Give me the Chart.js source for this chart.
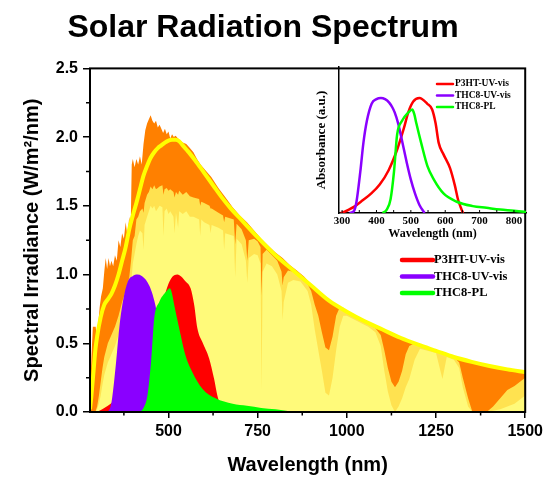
<!DOCTYPE html>
<html>
<head>
<meta charset="utf-8">
<script src="https://cdn.jsdelivr.net/npm/chart.js@4/dist/chart.umd.min.js"></script>
<style>
  body { margin: 0; background: #fff; }
  #wrap { position: relative; width: 547px; height: 477px; }
  #main { position: absolute; left: 0; top: 0; }
  #inset { position: absolute; left: 300px; top: 60px; }
</style>
</head>
<body>
<div id="wrap">
  <canvas id="main" width="547" height="477"></canvas>
  <canvas id="inset" width="228" height="185"></canvas>
</div>
<script>
// 大气层外太阳光谱 (橙色)
const wlAM0 = [
  280, 284, 288, 296, 299, 303, 307, 311, 316, 320,
  324, 328, 332, 336, 340, 345, 350, 355, 360, 365,
  370, 375, 380, 385, 390, 394, 397, 400, 405, 410,
  415, 420, 425, 430, 435, 440, 445, 450, 455, 460,
  465, 470, 475, 480, 485, 490, 495, 500, 505, 510,
  515, 520, 530, 540, 550, 560, 570, 580, 590, 600,
  620, 640, 660, 680, 700, 720, 740, 760, 780, 800,
  820, 840, 860, 880, 900, 950, 1000, 1100, 1200, 1300,
  1400, 1500
];
const irrAM0 = [
  0.10, 0.40, 0.62, 0.62, 0.54, 0.64, 0.76, 0.84, 0.90, 1.02,
  1.12, 1.04, 1.12, 1.06, 1.10, 1.06, 1.14, 1.10, 1.25, 1.20,
  1.30, 1.26, 1.38, 1.28, 1.42, 1.34, 1.80, 1.84, 1.78, 1.84,
  1.80, 1.86, 1.80, 1.95, 2.05, 2.10, 2.13, 2.16, 2.12, 2.10,
  2.12, 2.07, 2.09, 2.06, 2.03, 2.06, 2.02, 2.04, 1.99, 2.02,
  2.00, 2.01, 1.98, 1.96, 1.95, 1.92, 1.89, 1.84, 1.80, 1.77,
  1.71, 1.63, 1.56, 1.49, 1.43, 1.38, 1.32, 1.26, 1.21, 1.16,
  1.12, 1.07, 1.03, 0.985, 0.93, 0.81, 0.72, 0.59, 0.48, 0.39,
  0.33, 0.28
];

// 海平面光谱: 深黄 (global) 与浅黄 (direct)
const wlSea = [
  280, 295, 300, 305, 310, 315, 320, 330, 340, 350,
  360, 370, 380, 390, 395, 400, 405, 410, 415, 420,
  427, 430, 433, 440, 445, 450, 455, 460, 465, 470,
  475, 483, 486, 489, 495, 500, 505, 514, 517, 521,
  527, 530, 540, 550, 560, 570, 586, 589, 592, 600,
  615, 618, 621, 640, 653, 656, 659, 683, 687, 691,
  705, 717, 721, 725, 740, 750, 758, 761, 764, 775,
  790, 805, 817, 820, 823, 835, 850, 870, 890, 900,
  910, 920, 930, 940, 950, 960, 970, 980, 990, 1000,
  1030, 1060, 1080, 1095, 1105, 1115, 1125, 1135, 1145, 1155,
  1165, 1175, 1190, 1205, 1250, 1268, 1280, 1300, 1315, 1325,
  1340, 1352, 1392, 1410, 1430, 1450, 1470, 1490, 1500
];
const irrGlobal = [
  0, 0, 0.04, 0.12, 0.22, 0.32, 0.40, 0.50, 0.56, 0.62,
  0.70, 0.80, 0.88, 0.98, 1.10, 1.25, 1.28, 1.40, 1.42, 1.46,
  1.48, 1.45, 1.52, 1.58, 1.60, 1.64, 1.62, 1.65, 1.62, 1.63,
  1.64, 1.65, 1.58, 1.62, 1.63, 1.61, 1.62, 1.60, 1.56, 1.60,
  1.58, 1.61, 1.58, 1.60, 1.57, 1.56, 1.55, 1.50, 1.53, 1.52,
  1.50, 1.48, 1.48, 1.45, 1.43, 1.38, 1.42, 1.40, 1.22, 1.37,
  1.33, 1.25, 1.10, 1.25, 1.26, 1.24, 1.20, 0.85, 1.15, 1.18,
  1.14, 1.10, 1.02, 0.92, 0.98, 1.03, 1.02, 0.98, 0.93, 0.88,
  0.78, 0.70, 0.58, 0.47, 0.45, 0.55, 0.70, 0.76, 0.76, 0.73,
  0.69, 0.64, 0.61, 0.56, 0.45, 0.32, 0.22, 0.18, 0.22, 0.30,
  0.42, 0.48, 0.50, 0.49, 0.45, 0.42, 0.42, 0.40, 0.36, 0.25,
  0.10, 0, 0, 0.04, 0.10, 0.16, 0.19, 0.23, 0.25
];
const irrDirect = [
  0, 0, 0.02, 0.06, 0.12, 0.20, 0.27, 0.36, 0.42, 0.48,
  0.56, 0.66, 0.74, 0.84, 0.92, 1.08, 1.15, 1.22, 1.28, 1.32,
  1.30, 1.18, 1.36, 1.42, 1.46, 1.50, 1.48, 1.50, 1.46, 1.48,
  1.50, 1.49, 1.28, 1.46, 1.48, 1.44, 1.46, 1.42, 1.30, 1.45,
  1.34, 1.46, 1.44, 1.46, 1.42, 1.42, 1.40, 1.28, 1.40, 1.38,
  1.36, 1.30, 1.36, 1.34, 1.32, 1.18, 1.30, 1.28, 0.98, 1.26,
  1.22, 1.10, 0.94, 1.12, 1.15, 1.14, 1.08, 0.16, 1.02, 1.08,
  1.06, 1.00, 0.88, 0.67, 0.80, 0.94, 0.96, 0.95, 0.88, 0.78,
  0.60, 0.45, 0.30, 0.14, 0.12, 0.25, 0.45, 0.62, 0.70, 0.70,
  0.66, 0.62, 0.58, 0.48, 0.30, 0.15, 0.05, 0, 0.04, 0.10,
  0.18, 0.24, 0.38, 0.46, 0.43, 0.24, 0.40, 0.38, 0.32, 0.18,
  0.04, 0, 0, 0.01, 0.02, 0.04, 0.06, 0.10, 0.12
];

// 黑体曲线 (黄线)
const wlBody = [
  280, 284, 290, 295, 300, 310, 320, 330, 340, 350,
  360, 370, 380, 390, 400, 410, 420, 430, 440, 450,
  460, 470, 480, 490, 500, 510, 520, 530, 540, 550,
  560, 575, 600, 625, 650, 675, 700, 750, 800, 850,
  900, 950, 1000, 1050, 1100, 1150, 1200, 1250, 1300, 1350,
  1400, 1450, 1500
];
const irrBody = [
  0.02, 0.12, 0.30, 0.45, 0.55, 0.69, 0.78, 0.82, 0.86, 0.92,
  1.00, 1.10, 1.20, 1.33, 1.43, 1.52, 1.62, 1.72, 1.79, 1.85,
  1.89, 1.92, 1.94, 1.96, 1.975, 1.98, 1.98, 1.97, 1.94, 1.91,
  1.88, 1.83, 1.74, 1.65, 1.56, 1.48, 1.41, 1.27, 1.14, 1.03,
  0.92, 0.81, 0.73, 0.66, 0.60, 0.54, 0.49, 0.445, 0.40, 0.365,
  0.335, 0.31, 0.29
];

// 吸收/发射曲线
const wlP3HT = [296, 306, 320, 338, 360, 385, 410, 435, 460, 480, 493, 507, 525, 548, 562, 572, 581, 595, 614, 628, 637, 645, 652];
const absP3HT = [0, 0.01, 0.03, 0.06, 0.11, 0.17, 0.25, 0.37, 0.55, 0.74, 0.88, 0.97, 1.0, 0.95, 0.90, 0.78, 0.61, 0.51, 0.39, 0.24, 0.12, 0.05, 0];
const wlTHC8 = [322, 335, 342, 353, 362, 372, 386, 400, 413, 425, 437, 446, 453, 463, 475, 488, 500, 512, 525, 540];
const absTHC8 = [0, 0.02, 0.10, 0.36, 0.61, 0.80, 0.95, 0.99, 1.0, 0.99, 0.96, 0.92, 0.875, 0.78, 0.62, 0.44, 0.29, 0.17, 0.07, 0];
const wlPL = [418, 430, 441, 451, 460, 474, 493, 504, 510, 516, 530, 548, 567, 595, 632, 680, 720, 760, 800, 830, 855];
const intPL = [0, 0.03, 0.12, 0.36, 0.68, 0.80, 0.875, 0.90, 0.86, 0.78, 0.61, 0.41, 0.29, 0.17, 0.10, 0.06, 0.045, 0.03, 0.02, 0.01, 0];

// 刻度
const xTicks = [500, 750, 1000, 1250, 1500];
const xMinor = [375, 625, 875, 1125, 1375];
const yTicks = [0, 0.5, 1.0, 1.5, 2.0, 2.5];
const yMinor = [0.25, 0.75, 1.25, 1.75, 2.25];
const insetTicks = [300, 400, 500, 600, 700, 800];
const insetMinor = [300, 350, 400, 450, 500, 550, 600, 650, 700, 750, 800];

const SANS = '"Liberation Sans", Arial, sans-serif';
const SERIF = '"Liberation Serif", "Times New Roman", serif';

const pts = (xs, ys) => xs.map((x, i) => ({ x: x, y: ys[i] }));

function area(label, xs, ys, color, order, smooth) {
    return {
        label: label,
        data: pts(xs, ys),
        backgroundColor: color,
        borderColor: color,
        borderWidth: 0,
        pointRadius: 0,
        fill: 'origin',
        order: order,
        tension: 0,
        cubicInterpolationMode: smooth ? 'monotone' : 'default'
    };
}

// 边框与次刻度
const frameTicks = {
    id: 'frameTicks',
    afterDraw(chart, args, o) {
        const { ctx, chartArea: a } = chart;
        const sx = chart.scales.x, sy = chart.scales.y;
        ctx.save();
        ctx.strokeStyle = '#000';
        if (o.box) {
            ctx.lineWidth = o.boxWidth;
            ctx.strokeRect(a.left, a.top, a.right - a.left, a.bottom - a.top);
        }
        ctx.lineWidth = o.tickWidth;
        ctx.beginPath();
        (o.xMinor || []).forEach(v => {
            const px = sx.getPixelForValue(v);
            ctx.moveTo(px, a.bottom);
            ctx.lineTo(px, a.bottom + o.xLen);
        });
        (o.yMinor || []).forEach(v => {
            const py = sy.getPixelForValue(v);
            ctx.moveTo(a.left, py);
            ctx.lineTo(a.left - o.yLen, py);
        });
        ctx.stroke();
        ctx.restore();
    }
};

// 线条图例
const lineLegend = {
    id: 'lineLegend',
    afterDraw(chart, args, o) {
        const ctx = chart.ctx;
        const items = chart.data.datasets.filter(d => d.legendRank).sort((a, b) => a.legendRank - b.legendRank);
        ctx.save();
        ctx.font = o.font;
        ctx.textBaseline = 'middle';
        items.forEach((d, i) => {
            const y = o.y + i * o.gap;
            ctx.strokeStyle = d.legendColor;
            ctx.lineWidth = o.lineWidth;
            ctx.lineCap = 'round';
            ctx.beginPath();
            ctx.moveTo(o.x, y);
            ctx.lineTo(o.x + o.len, y);
            ctx.stroke();
            ctx.fillStyle = '#000';
            ctx.fillText(d.label, o.x + o.len + o.textGap, y);
        });
        ctx.restore();
    }
};

function createMainChart() {
    const red = area('P3HT-UV-vis', wlP3HT, absP3HT, '#FF0000', 3, true);
    red.legendRank = 1; red.legendColor = '#FF0000';
    const purple = area('THC8-UV-vis', wlTHC8, absTHC8, '#8A00FF', 2, true);
    purple.legendRank = 2; purple.legendColor = '#8A00FF';
    const green = area('THC8-PL', wlPL, intPL, '#00FF00', 1, true);
    green.legendRank = 3; green.legendColor = '#00FF00';

    new Chart(document.getElementById('main'), {
        type: 'line',
        data: {
            datasets: [
                {
                    label: 'Blackbody',
                    data: pts(wlBody, irrBody),
                    borderColor: '#FFFF00',
                    borderWidth: 4,
                    pointRadius: 0,
                    fill: false,
                    order: 0,
                    cubicInterpolationMode: 'monotone'
                },
                green,
                purple,
                red,
                area('Sea level direct', wlSea, irrDirect, '#FFFA7A', 4, false),
                area('Sea level global', wlSea, irrGlobal, '#FFE250', 5, false),
                area('Top of atmosphere', wlAM0, irrAM0, '#FF8000', 6, false)
            ]
        },
        options: {
            responsive: false,
            animation: false,
            devicePixelRatio: 1,
            layout: { padding: { left: 0, right: 21, top: 0, bottom: 0 } },
            plugins: {
                legend: { display: false },
                tooltip: { enabled: false },
                title: {
                    display: true,
                    text: 'Solar Radiation Spectrum',
                    color: '#000',
                    font: { family: SANS, size: 32, weight: 'bold' },
                    padding: { top: 9, bottom: 21 }
                },
                frameTicks: { box: true, boxWidth: 2, tickWidth: 1.5, xMinor: xMinor, yMinor: yMinor, xLen: 3.5, yLen: 4 },
                lineLegend: { x: 402, y: 260, gap: 16.5, len: 31, lineWidth: 4.5, textGap: 1,
                              font: 'bold 12.5px ' + SERIF }
            },
            scales: {
                x: {
                    type: 'linear',
                    min: 280,
                    max: 1500,
                    afterBuildTicks: s => { s.ticks = xTicks.map(v => ({ value: v })); },
                    afterFit: s => { s.height = 65; },
                    ticks: {
                        color: '#000',
                        font: { family: SANS, size: 16, weight: 'bold' },
                        padding: 4,
                        maxRotation: 0,
                        autoSkip: false,
                        callback: v => String(v)
                    },
                    grid: { display: true, drawOnChartArea: false, drawTicks: true, tickLength: 6, color: '#000', lineWidth: 1.5 },
                    border: { display: false },
                    title: {
                        display: true,
                        text: 'Wavelength (nm)',
                        color: '#000',
                        font: { family: SANS, size: 20, weight: 'bold' },
                        padding: { top: 0, bottom: 0 }
                    }
                },
                y: {
                    min: 0,
                    max: 2.5,
                    afterBuildTicks: s => { s.ticks = yTicks.map(v => ({ value: v })); },
                    afterFit: s => { s.width = 90; },
                    ticks: {
                        color: '#000',
                        font: { family: SANS, size: 16, weight: 'bold' },
                        padding: 5,
                        callback: v => v.toFixed(1)
                    },
                    grid: { display: true, drawOnChartArea: false, drawTicks: true, tickLength: 7, color: '#000', lineWidth: 1.5 },
                    border: { display: false },
                    title: {
                        display: true,
                        text: 'Spectral Irradiance (W/m²/nm)',
                        color: '#000',
                        font: { family: SANS, size: 20, weight: 'bold' },
                        padding: { top: 20, bottom: 0 }
                    }
                }
            }
        },
        plugins: [frameTicks, lineLegend]
    });
}

function curve(label, xs, ys, color, rank) {
    return {
        label: label,
        data: pts(xs, ys),
        borderColor: color,
        borderWidth: 2.5,
        pointRadius: 0,
        fill: false,
        cubicInterpolationMode: 'monotone',
        legendRank: rank,
        legendColor: color
    };
}

function createInsetChart() {
    new Chart(document.getElementById('inset'), {
        type: 'line',
        data: {
            datasets: [
                curve('THC8-PL', wlPL, intPL, '#00FF00', 3),
                curve('THC8-UV-vis', wlTHC8, absTHC8, '#8A00FF', 2),
                curve('P3HT-UV-vis', wlP3HT, absP3HT, '#FF0000', 1)
            ]
        },
        options: {
            responsive: false,
            animation: false,
            devicePixelRatio: 1,
            layout: { padding: { left: 0, right: 2, top: 7, bottom: 0 } },
            plugins: {
                legend: { display: false },
                tooltip: { enabled: false },
                frameTicks: { box: false, tickWidth: 1, xMinor: insetMinor, xLen: -3 },
                lineLegend: { x: 137, y: 24, gap: 11.5, len: 16, lineWidth: 2.5, textGap: 2,
                              font: 'bold 9.5px ' + SERIF }
            },
            scales: {
                x: {
                    type: 'linear',
                    min: 291,
                    max: 835,
                    afterBuildTicks: s => { s.ticks = insetTicks.map(v => ({ value: v })); },
                    afterFit: s => { s.height = 32; },
                    ticks: {
                        color: '#000',
                        font: { family: SERIF, size: 11, weight: 'bold' },
                        padding: 2,
                        maxRotation: 0,
                        autoSkip: false,
                        callback: v => String(v)
                    },
                    grid: { display: false, drawTicks: false },
                    border: { display: true, color: '#000', width: 1.5 },
                    title: {
                        display: true,
                        text: 'Wavelength (nm)',
                        color: '#000',
                        font: { family: SERIF, size: 12, weight: 'bold' },
                        padding: { top: 0, bottom: 4 }
                    }
                },
                y: {
                    min: 0,
                    max: 1.27,
                    afterFit: s => { s.width = 39; },
                    ticks: { display: false },
                    grid: { display: false, drawTicks: false },
                    border: { display: true, color: '#000', width: 1.5 },
                    title: {
                        display: true,
                        text: 'Absorbance (a.u.)',
                        color: '#000',
                        font: { family: SERIF, size: 13, weight: 'bold' },
                        padding: { top: 14, bottom: 0 }
                    }
                }
            }
        },
        plugins: [frameTicks, lineLegend]
    });
}

document.addEventListener('DOMContentLoaded', function() {
    createMainChart();
    createInsetChart();
});
</script>
</body>
</html>
